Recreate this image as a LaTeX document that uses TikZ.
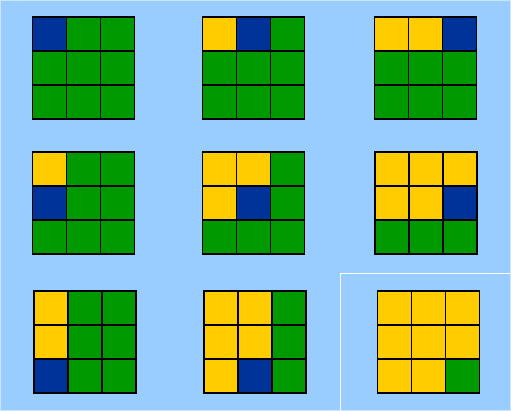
\documentclass[tikz,border=0pt]{standalone}
\definecolor{bgblue}{HTML}{99CCFF}
\definecolor{B}{HTML}{003399}
\definecolor{G}{HTML}{009900}
\definecolor{Y}{HTML}{FFCC00}
\tikzset{
  gridline/.style={draw=black, line width=1.1pt, line cap=rect},
  frameline/.style={draw=white, line width=1pt},
}
\newcommand\mygrid[3]{%
  \foreach \c [count=\i from 0] in {#3} {
    \pgfmathtruncatemacro\col{mod(\i,3)}
    \pgfmathtruncatemacro\row{div(\i,3)}
    \fill[\c] ({#1+\col*34},{#2+\row*34}) rectangle ++(34,34);
  }
  \foreach \k in {0,1,2,3} {
    \draw[gridline] ({#1+\k*34},#2) -- ++(0,102);
    \draw[gridline] (#1,{#2+\k*34}) -- ++(102,0);
  }
}
\begin{document}
\begin{tikzpicture}[x=1pt,y=-1pt]
\useasboundingbox (0,0) rectangle (511,411);
\fill[bgblue] (0,0) rectangle (511,411);
\draw[white, opacity=0.5, line width=1pt] (0.5,0.5) rectangle (510.5,410.5);
\draw[frameline] (340.7,420) -- (340.7,273.3) -- (520,273.3);
\mygrid{32.5}{17}{B,G,G,G,G,G,G,G,G}
\mygrid{202.5}{17}{Y,B,G,G,G,G,G,G,G}
\mygrid{374.5}{17}{Y,Y,B,G,G,G,G,G,G}
\mygrid{32.5}{152}{Y,G,G,B,G,G,G,G,G}
\mygrid{202.5}{152}{Y,Y,G,Y,B,G,G,G,G}
\mygrid{375}{152}{Y,Y,Y,Y,Y,B,G,G,G}
\mygrid{34}{291}{Y,G,G,Y,G,G,B,G,G}
\mygrid{204}{291}{Y,Y,G,Y,Y,G,Y,B,G}
\mygrid{377.5}{291}{Y,Y,Y,Y,Y,Y,Y,Y,G}
\end{tikzpicture}
\end{document}
